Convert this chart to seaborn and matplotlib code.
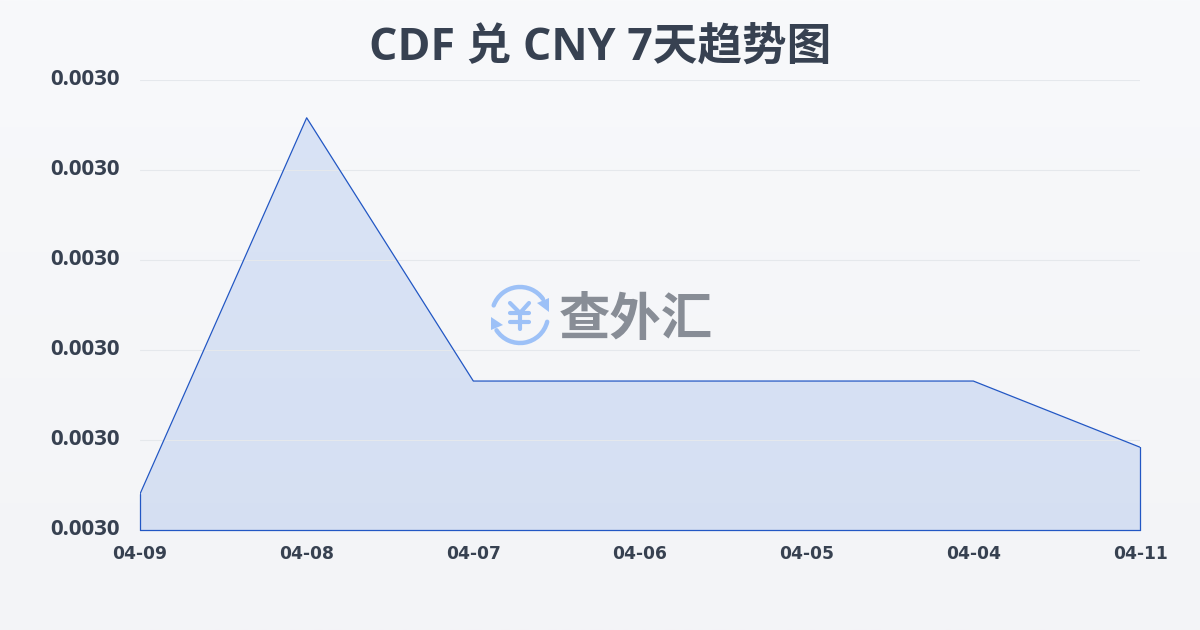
import numpy as np
import pandas as pd
import matplotlib
matplotlib.use("Agg")
import matplotlib.pyplot as plt
from matplotlib.patches import Arc, Polygon
from matplotlib.colors import LinearSegmentedColormap
from matplotlib.transforms import ScaledTranslation
import seaborn as sns

dates = ["04-09", "04-08", "04-07", "04-06", "04-05", "04-04", "04-11"]
rates = [0.0029840, 0.0030258, 0.00299655, 0.00299655, 0.00299655, 0.00299655, 0.0029892]
y_ticks = [0.00298, 0.00299, 0.00300, 0.00301, 0.00302, 0.00303]
y_labels = ["0.0030"] * 6
title = "CDF 兑 CNY 7天趋势图"
watermark = "查外汇"

sns.set_theme(style="white")
plt.rcParams['font.family'] = ['Open Sans', 'Noto Sans CJK SC', 'DejaVu Sans']

W, H = 1200, 630
fig = plt.figure(figsize=(12, 6.3), dpi=100)

bg = fig.add_axes([0, 0, 1, 1], zorder=0)
bg.imshow(np.linspace(0, 1, 256).reshape(-1, 1), aspect="auto",
          cmap=LinearSegmentedColormap.from_list("bg", ["#f8f9fb", "#f3f4f7"]))
bg.axis("off")

ax = fig.add_axes([140 / W, 1 - 530 / H, 1000 / W, 450 / H], zorder=1)
ax.patch.set_alpha(0)
df = pd.DataFrame({"date": dates, "rate": rates})
df["pos"] = range(len(df))

ax.fill_between(df["pos"], df["rate"], y_ticks[0], color="#2563d8", alpha=0.14, lw=0, zorder=1)
sns.lineplot(data=df, x="pos", y="rate", ax=ax, color="#2257c4", lw=0.9, zorder=3)
ax.plot([0, 0], [y_ticks[0], rates[0]], color="#2257c4", lw=0.9, zorder=3, clip_on=False)
ax.plot([6, 6], [y_ticks[0], rates[-1]], color="#2257c4", lw=0.9, zorder=3, clip_on=False)
ax.plot([0, 6], [y_ticks[0], y_ticks[0]], color="#2257c4", lw=0.9, zorder=3, clip_on=False)

ax.set_xlim(0, 6)
ax.set_ylim(y_ticks[0], y_ticks[-1])
ax.set_xticks(df["pos"])
ax.set_xticklabels(dates, fontfamily="DejaVu Sans", fontweight="bold", fontsize=12.3, color="#374151")
ax.set_yticks(y_ticks)
ax.set_yticklabels(y_labels, fontfamily="Open Sans", fontweight="bold", fontsize=16, color="#374151")
ax.tick_params(axis="x", length=7, width=0.8, color="#e5e7eb", pad=4)
ax.tick_params(axis="y", length=0, pad=14.5)
up = ScaledTranslation(0, 2.5 / 100, fig.dpi_scale_trans)
for lab in ax.get_yticklabels():
    lab.set_transform(lab.get_transform() + up)
ax.set_xlabel("")
ax.set_ylabel("")
ax.yaxis.grid(True, color="#e5e8ec", lw=0.8, zorder=2)
ax.xaxis.grid(False)
ax.set_axisbelow(False)
for s in ax.spines.values():
    s.set_visible(False)

fig.text(600 / W, 1 - 48 / H, title, ha="center", va="center", fontsize=32.1,
         fontweight="bold", color="#374151")

# watermark, drawn in pixel coordinates
ov = fig.add_axes([0, 0, 1, 1], zorder=2)
ov.set_xlim(0, W)
ov.set_ylim(H, 0)
ov.axis("off")
ov.text(636, 319, watermark, ha="center", va="center", fontsize=37,
        fontweight="bold", color="#888d96", family=['Noto Sans CJK SC'])
blue = "#9dc1f7"
ov.add_patch(Arc((520, 315), 56, 56, theta1=200, theta2=325, color=blue, lw=3.2, capstyle="round"))
ov.add_patch(Arc((520, 315), 56, 56, theta1=14, theta2=147, color=blue, lw=3.2, capstyle="round"))
ov.add_patch(Polygon([[549, 298], [549, 312], [537, 303]], closed=True, color=blue, lw=0))
ov.add_patch(Polygon([[491, 317], [491, 330], [503, 325]], closed=True, color=blue, lw=0))
for xs, ys in [([510, 520, 529], [303, 313, 303]), ([510, 529], [313, 313]),
               ([510, 529], [322, 322]), ([520, 520], [313, 329])]:
    ov.plot(xs, ys, color=blue, lw=3, solid_capstyle="round", solid_joinstyle="round")
ov.set_xlim(0, W)
ov.set_ylim(H, 0)

fig.savefig("out.png", dpi=100)
